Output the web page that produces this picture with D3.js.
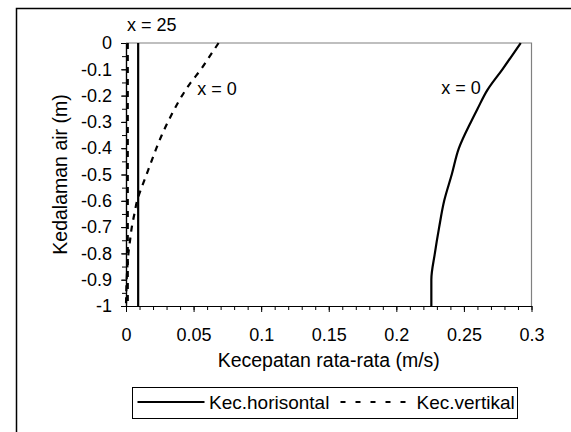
<!DOCTYPE html>
<meta charset="utf-8">
<html>
<head><title>Kecepatan rata-rata</title>
<script src="https://d3js.org/d3.v7.min.js"></script>
<style>
    body { margin: 0; background: #fff; }
    text { font-family: "Liberation Sans", Arial, sans-serif; fill: #000; }
    .axis path, .axis line { stroke: #000; }
</style>
</head>
<body>
<script>
// tick values on both axes
var xTicks = [0, 0.05, 0.1, 0.15, 0.2, 0.25, 0.3];
var yTicks = [0, -0.1, -0.2, -0.3, -0.4, -0.5, -0.6, -0.7, -0.8, -0.9, -1];

// Kec.horisontal, x = 0
var depthH0 = [0, -0.1, -0.18, -0.25, -0.3, -0.4, -0.5, -0.6, -0.7, -0.8, -0.9, -1];
var velH0   = [0.292, 0.2785, 0.2672, 0.2601, 0.2552, 0.2463, 0.2410, 0.2354, 0.2317, 0.2285, 0.2259, 0.2259];
// Kec.horisontal, x = 25
var depthH25 = [0, -1];
var velH25   = [0.009, 0.009];
// Kec.vertikal, x = 0
var depthV0 = [0, -0.05, -0.1, -0.15, -0.2, -0.25, -0.3, -0.35, -0.4, -0.45, -0.5,
               -0.55, -0.6, -0.65, -0.7, -0.75, -0.8, -0.85, -0.9, -0.95, -1];
var velV0   = [0.0685, 0.062, 0.0555, 0.048, 0.0415, 0.036, 0.031, 0.0265, 0.0225, 0.0188, 0.0152,
               0.0115, 0.0082, 0.0062, 0.0043, 0.003, 0.0018, 0.001, 0.0005, 0.0002, 0];
// Kec.vertikal, x = 25
var depthV25 = [0, -1];
var velV25   = [0.0013, 0.0013];

var W = 571, H = 432;
var plot = {left: 126, top: 43, right: 531.5, bottom: 306};

var svg = d3.select("body").append("svg")
    .attr("width", W)
    .attr("height", H);

// outer chart frame (only top and left edges are visible)
svg.append("path")
    .attr("d", "M16.5,432V8.5H571")
    .attr("fill", "none")
    .attr("stroke", "#000")
    .attr("stroke-width", 1.5);

var x = d3.scaleLinear().domain([0, 0.3]).range([plot.left, plot.right]);
var y = d3.scaleLinear().domain([-1, 0]).range([plot.bottom, plot.top]);

// grey plot-area border on top and right
svg.append("path")
    .attr("d", "M" + plot.left + "," + plot.top + "H" + plot.right + "V" + plot.bottom)
    .attr("fill", "none")
    .attr("stroke", "#808080")
    .attr("stroke-width", 1.2);

// minor ticks
svg.append("g").attr("class", "axis")
    .attr("transform", "translate(0," + plot.bottom + ")")
    .call(d3.axisBottom(x).tickValues(d3.range(0, 31).map(function(i) { return i / 100; }))
        .tickSize(4).tickSizeOuter(0).tickFormat(""));
svg.append("g").attr("class", "axis")
    .attr("transform", "translate(" + plot.left + ",0)")
    .call(d3.axisLeft(y).tickValues(d3.range(0, 21).map(function(i) { return -i / 20; }))
        .tickSize(4).tickSizeOuter(0).tickFormat(""));

// major ticks + labels
svg.append("g").attr("class", "axis")
    .attr("transform", "translate(0," + plot.bottom + ")")
    .call(d3.axisBottom(x).tickValues(xTicks).tickSize(6).tickSizeOuter(0)
        .tickPadding(16).tickFormat(function(d) { return String(d); }));
svg.append("g").attr("class", "axis")
    .attr("transform", "translate(" + plot.left + ",0)")
    .call(d3.axisLeft(y).tickValues(yTicks).tickSize(5).tickSizeOuter(0)
        .tickPadding(9).tickFormat(function(d) { return String(d); }));
svg.selectAll(".axis text")
    .style("font-family", "'Liberation Sans', Arial, sans-serif")
    .style("font-size", "18px")
    .attr("fill", "#000");
svg.selectAll(".axis path.domain").attr("stroke-width", 1.2);

// axis titles
svg.append("text")
    .attr("x", (plot.left + plot.right) / 2)
    .attr("y", 367)
    .attr("text-anchor", "middle")
    .style("font-size", "19.5px")
    .text("Kecepatan rata-rata (m/s)");
svg.append("text")
    .attr("transform", "translate(67," + (plot.top + plot.bottom) / 2 + ") rotate(-90)")
    .attr("text-anchor", "middle")
    .style("font-size", "19.5px")
    .text("Kedalaman air (m)");

// Excel-like smoothed lines
var line = d3.line()
    .curve(d3.curveMonotoneY)
    .x(function(d) { return x(d[0]); })
    .y(function(d) { return y(d[1]); });

var series = [
    {vel: velH0, depth: depthH0, dash: null},
    {vel: velH25, depth: depthH25, dash: null},
    {vel: velV0, depth: depthV0, dash: "6,6"},
    {vel: velV25, depth: depthV25, dash: "6,6"}
];

svg.selectAll("path.series")
    .data(series)
    .enter().append("path")
    .attr("class", "series")
    .attr("d", function(s) { return line(d3.zip(s.vel, s.depth)); })
    .attr("fill", "none")
    .attr("stroke", "#000")
    .attr("stroke-width", 2.2)
    .attr("stroke-dasharray", function(s) { return s.dash; });

// series annotations
var notes = [
    {text: "x = 25", vx: 0.0007, vy: 0.0, dy: -12},
    {text: "x = 0", vx: 0.0527, vy: -0.172, dy: 7},
    {text: "x = 0", vx: 0.2332, vy: -0.162, dy: 8}
];
svg.selectAll("text.note")
    .data(notes)
    .enter().append("text")
    .attr("class", "note")
    .attr("x", function(d) { return x(d.vx); })
    .attr("y", function(d) { return y(d.vy) + d.dy; })
    .style("font-size", "18px")
    .text(function(d) { return d.text; });

// legend
var lg = svg.append("g").attr("transform", "translate(132.5,387.5)");
lg.append("rect")
    .attr("width", 385)
    .attr("height", 31)
    .attr("fill", "#fff")
    .attr("stroke", "#000")
    .attr("stroke-width", 1);
lg.append("line")
    .attr("x1", 5).attr("x2", 72).attr("y1", 14.5).attr("y2", 14.5)
    .attr("stroke", "#000").attr("stroke-width", 2.2);
lg.append("text").attr("x", 76.5).attr("y", 21.5)
    .style("font-size", "19px").text("Kec.horisontal");
lg.append("line")
    .attr("x1", 208).attr("x2", 273).attr("y1", 14.5).attr("y2", 14.5)
    .attr("stroke", "#000").attr("stroke-width", 2.2)
    .attr("stroke-dasharray", "5,10");
lg.append("text").attr("x", 284).attr("y", 21.5)
    .style("font-size", "19px").text("Kec.vertikal");
</script>
</body>
</html>
